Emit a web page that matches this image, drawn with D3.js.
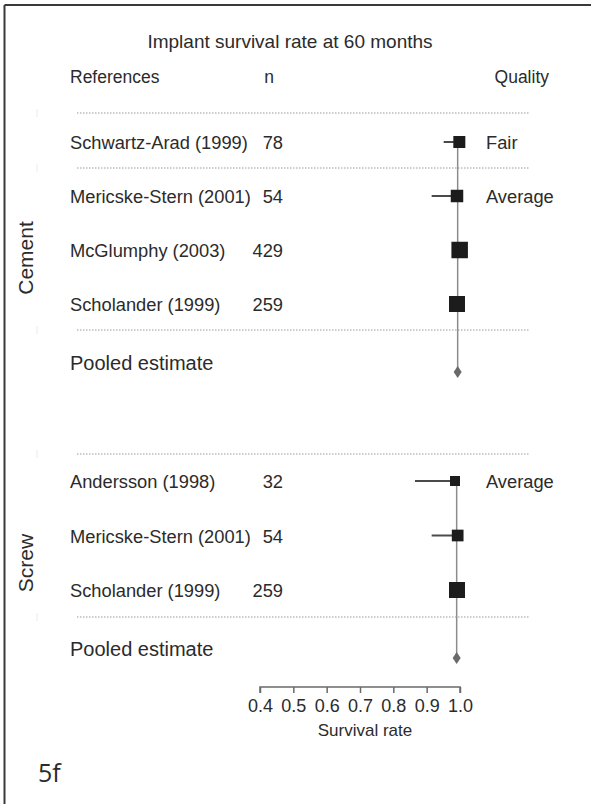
<!DOCTYPE html>
<html>
<head>
<meta charset="utf-8">
<script src="https://cdn.jsdelivr.net/npm/d3@7"></script>
<style>
  html, body { margin: 0; padding: 0; background: #fff; }
  svg { display: block; }
  text { font-family: "Liberation Sans", Arial, sans-serif; fill: #2b2b2b; }
</style>
</head>
<body>
<svg id="chart" width="591" height="804"></svg>
<script>
// ---------------- data ----------------
const title = "Implant survival rate at 60 months";
const headers = ["References", "n", "Quality"];

const cementRefs    = ["Schwartz-Arad (1999)", "Mericske-Stern (2001)", "McGlumphy (2003)", "Scholander (1999)"];
const cementN       = [78, 54, 429, 259];
const cementEst     = [0.998, 0.991, 0.999, 0.991];
const cementLow     = [0.951, 0.915, 0.995, 0.985];
const cementHigh    = [1.000, 1.000, 1.000, 0.997];
const cementWeight  = [144, 156, 272, 256];
const cementQuality = ["Fair", "Average", "", ""];
const cementPooled  = 0.993;

const screwRefs    = ["Andersson (1998)", "Mericske-Stern (2001)", "Scholander (1999)"];
const screwN       = [32, 54, 259];
const screwEst     = [0.985, 0.993, 0.991];
const screwLow     = [0.865, 0.915, 0.985];
const screwHigh    = [1.000, 1.000, 0.997];
const screwWeight  = [100, 137, 256];
const screwQuality = ["Average", "", ""];
const screwPooled  = 0.990;

const tickValues = [0.4, 0.5, 0.6, 0.7, 0.8, 0.9, 1.0];
const axisLabel = "Survival rate";
const panelLabel = "5f";

// ---------------- layout ----------------
const svg = d3.select("#chart");
const x = d3.scaleLinear().domain([0.4, 1.0]).range([260, 460]);
const size = d3.scaleSqrt().domain([0, 256]).range([0, 16]);

// frame (top & left)
svg.append("line").attr("x1", 4.5).attr("x2", 591).attr("y1", 5).attr("y2", 5)
  .attr("stroke", "#3a3a3a").attr("stroke-width", 2);
svg.append("line").attr("x1", 4.5).attr("x2", 4.5).attr("y1", 5).attr("y2", 804)
  .attr("stroke", "#3a3a3a").attr("stroke-width", 2);

svg.append("text").attr("x", 290).attr("y", 48).attr("text-anchor", "middle")
  .style("font-size", "19px").text(title);

svg.append("text").attr("x", 70).attr("y", 83).style("font-size", "17.5px").text(headers[0]);
svg.append("text").attr("x", 269).attr("y", 83).attr("text-anchor", "middle").style("font-size", "17.5px").text(headers[1]);
svg.append("text").attr("x", 549).attr("y", 83).attr("text-anchor", "end").style("font-size", "17.5px").text(headers[2]);

function dotted(y) {
  svg.append("line").attr("x1", 77).attr("x2", 529).attr("y1", y).attr("y2", y)
    .attr("stroke", "#9a9a9a").attr("stroke-width", 1).attr("stroke-dasharray", "1.5,1.5");
  svg.append("line").attr("x1", 37).attr("x2", 37).attr("y1", y - 4).attr("y2", y + 4)
    .attr("stroke", "#f2f2f2").attr("stroke-width", 1.5);
}

function group(cfg) {
  const g = svg.append("g");
  const rows = cfg.refs.map((r, i) => ({
    ref: r, n: cfg.n[i], est: cfg.est[i], lo: cfg.lo[i], hi: cfg.hi[i],
    w: cfg.weight[i], q: cfg.quality[i], i
  }));
  const y = d3.scaleLinear().domain([0, 1]).range([cfg.y0, cfg.y0 + cfg.step]);
  const last = y(rows.length - 1);
  const pooledTextY = last + 59;
  const pooledDiamondY = last + 68;

  cfg.dashes.forEach(dotted);

  // group label
  g.append("text").attr("transform", `translate(${cfg.labelX},${cfg.labelY}) rotate(-90)`)
    .attr("text-anchor", "middle").attr("dominant-baseline", "central")
    .style("font-size", "21px").text(cfg.label);

  // vertical reference line at pooled estimate
  g.append("line").attr("x1", x(cfg.pooled)).attr("x2", x(cfg.pooled))
    .attr("y1", y(0) - 5).attr("y2", pooledDiamondY)
    .attr("stroke", "#8c8c8c").attr("stroke-width", 1.5);

  // rows text
  g.selectAll(".ref").data(rows).join("text")
    .attr("x", 70).attr("y", d => y(d.i) + 7).style("font-size", "18.3px").text(d => d.ref);
  g.selectAll(".n").data(rows).join("text")
    .attr("x", 283).attr("y", d => y(d.i) + 7).attr("text-anchor", "end")
    .style("font-size", "18.3px").text(d => d.n);
  g.selectAll(".q").data(rows.filter(d => d.q)).join("text")
    .attr("x", 486).attr("y", d => y(d.i) + 7).style("font-size", "18.3px").text(d => d.q);

  // whiskers
  g.selectAll(".ci").data(rows).join("line")
    .attr("x1", d => x(d.lo)).attr("x2", d => x(d.hi))
    .attr("y1", d => y(d.i)).attr("y2", d => y(d.i))
    .attr("stroke", "#4a4a4a").attr("stroke-width", 2);

  // squares
  g.selectAll(".sq").data(rows).join("rect")
    .attr("x", d => x(d.est) - size(d.w) / 2)
    .attr("y", d => y(d.i) - size(d.w) / 2)
    .attr("width", d => size(d.w)).attr("height", d => size(d.w))
    .attr("fill", "#1c1c1c");

  // pooled
  g.append("text").attr("x", 70).attr("y", pooledTextY + 7).style("font-size", "20px").text("Pooled estimate");
  const px = x(cfg.pooled);
  g.append("path")
    .attr("d", `M${px},${pooledDiamondY - 6}L${px + 4},${pooledDiamondY}L${px},${pooledDiamondY + 6}L${px - 4},${pooledDiamondY}Z`)
    .attr("fill", "#6a6a6a");
}

group({
  label: "Cement", labelX: 25, labelY: 258,
  refs: cementRefs, n: cementN, est: cementEst, lo: cementLow, hi: cementHigh,
  weight: cementWeight, quality: cementQuality, pooled: cementPooled,
  y0: 142, step: 54, dashes: [113, 168, 330]
});

group({
  label: "Screw", labelX: 25, labelY: 563,
  refs: screwRefs, n: screwN, est: screwEst, lo: screwLow, hi: screwHigh,
  weight: screwWeight, quality: screwQuality, pooled: screwPooled,
  y0: 481, step: 54.5, dashes: [454, 617]
});

// axis
const axis = d3.axisBottom(x).tickValues(tickValues).tickFormat(d3.format(".1f"))
  .tickSize(6).tickPadding(6);
const ax = svg.append("g").attr("transform", "translate(0,687)").call(axis);
ax.select(".domain").attr("stroke", "#6a6a6a").attr("stroke-width", 1.5);
ax.selectAll(".tick line").attr("stroke", "#6a6a6a").attr("stroke-width", 1.5).attr("y1", 0).attr("y2", 6);
ax.selectAll(".tick text").style("font-size", "18px")
  .style("font-family", "'Liberation Sans', Arial, sans-serif").attr("fill", "#444");
ax.select(".domain").attr("d", `M${x(0.4)},6V0H${x(1.0)}V6`);

svg.append("text").attr("x", 365).attr("y", 736).attr("text-anchor", "middle")
  .style("font-size", "17px").attr("fill", "#333").text(axisLabel);

svg.append("text").attr("x", 38).attr("y", 782)
  .style("font-family", "'Open Sans', sans-serif").style("font-size", "25px").attr("fill", "#222")
  .text(panelLabel);
</script>
</body>
</html>
